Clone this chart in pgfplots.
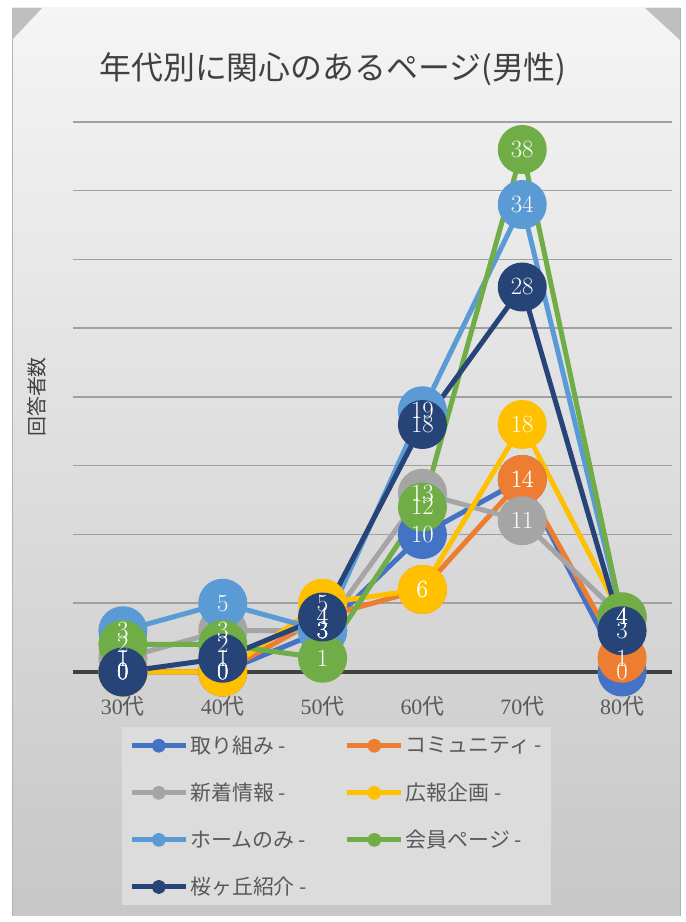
\documentclass[border=0pt]{standalone}
\usepackage{fontspec}
\setmainfont{Liberation Serif}
\newfontfamily\cjk{Noto Sans CJK JP}
\usepackage{pgfplots}
\usepackage{pgfplotstable}
\pgfplotsset{compat=1.18}

\definecolor{cA}{HTML}{4472C4}
\definecolor{cB}{HTML}{ED7D31}
\definecolor{cC}{HTML}{A5A5A5}
\definecolor{cD}{HTML}{FFC000}
\definecolor{cE}{HTML}{5B9BD5}
\definecolor{cF}{HTML}{70AD47}
\definecolor{cG}{HTML}{264478}
\definecolor{titlec}{HTML}{404040}
\definecolor{labc}{HTML}{595959}
\definecolor{gridc}{HTML}{A0A0A0}
\definecolor{axc}{HTML}{404040}
\definecolor{legc}{HTML}{DCDCDC}

% x: 0=30代 ... 5=80代
\pgfplotstableread{
x  a  b  c  d  e  f  g
0  0  0  1  0  3  2  0
1  0  0  3  0  5  2  1
2  3  4  3  5  3  1  4
3  10 6  13 6  19 12 18
4  14 14 11 18 34 38 28
5  0  1  4  4  4  4  3
}\data

\begin{document}
\begin{tikzpicture}
\fill[white] (0bp,0bp) rectangle (686bp,922bp);
\shade[top color=black!4, bottom color=black!22] (12bp,6bp) rectangle (680bp,914bp);
\draw[black!30, line width=1bp] (12bp,6bp) -- (12bp,914bp);
\draw[black!30, line width=1bp] (680bp,6bp) -- (680bp,914bp);
\fill[black!25] (12bp,914bp) -- (42bp,914bp) -- (12bp,882bp) -- cycle;
\fill[black!25] (680bp,914bp) -- (645bp,914bp) -- (680bp,882bp) -- cycle;

\node[font=\cjk\fontsize{32}{32}\selectfont, text=titlec] at (333bp,853bp) {年代別に関心のあるページ(男性)};

\begin{axis}[
  at={(73bp,250bp)}, anchor=south west,
  scale only axis, width=599bp, height=550bp,
  xmin=-0.5, xmax=5.5, ymin=0, ymax=40,
  clip=false,
  axis line style={draw=none},
  major tick length=0pt,
  xtick={0,...,5},
  xticklabels={30{\cjk 代},40{\cjk 代},50{\cjk 代},60{\cjk 代},70{\cjk 代},80{\cjk 代}},
  xticklabel style={yshift=-21bp},
  ytick={5,10,...,40}, yticklabels={},
  ymajorgrids, grid style={color=gridc, line width=1.5bp},
  extra y ticks={0}, extra y tick labels={},
  extra y tick style={grid style={color=axc, line width=4bp}},
  tick label style={font=\fontsize{22}{22}\selectfont, text=labc},
  ylabel={\cjk 回答者数},
  ylabel style={at={(axis description cs:-0.06,0.5)}, anchor=center,
    font=\fontsize{20}{20}\selectfont, text=titlec},
  legend columns=2,
  legend cell align=left,
  legend style={at={(axis description cs:0.082,-0.1)}, anchor=north west,
    fill=legc, draw=none, text=labc, font=\cjk\fontsize{21}{21}\selectfont,
    inner sep=7bp, row sep=24bp,
    /tikz/every even column/.append style={column sep=36bp}},
  legend image code/.code={
    \draw[#1, mark size=4.5bp, mark repeat=2, mark phase=2]
      plot coordinates {(0bp,0bp) (27bp,0bp) (54bp,0bp)};},
  every axis plot/.append style={line width=5bp, line join=round, mark=*, mark size=22bp},
]
\addplot[cA, mark options={fill=cA, draw=none}] table[x=x, y=a] {\data};
\addlegendentry{取り組み -}
\addplot[cB, mark options={fill=cB, draw=none}] table[x=x, y=b] {\data};
\addlegendentry{コミュニティ -}
\addplot[cC, mark options={fill=cC, draw=none}] table[x=x, y=c] {\data};
\addlegendentry{新着情報 -}
\addplot[cD, mark options={fill=cD, draw=none}] table[x=x, y=d] {\data};
\addlegendentry{広報企画 -}
\addplot[cE, mark options={fill=cE, draw=none}] table[x=x, y=e] {\data};
\addlegendentry{ホームのみ -}
\addplot[cF, mark options={fill=cF, draw=none}] table[x=x, y=f] {\data};
\addlegendentry{会員ページ -}
\addplot[cG, mark options={fill=cG, draw=none}] table[x=x, y=g] {\data};
\addlegendentry{桜ヶ丘紹介 -}

\pgfplotsset{every node near coord/.append style={anchor=center, text=white,
  font=\fontsize{26}{26}\selectfont}}
\foreach \s in {a,b,c,d,e,f,g}{
  \addplot[draw=none, mark=none, forget plot, nodes near coords]
    table[x=x, y=\s] {\data};
}
\end{axis}
\end{tikzpicture}
\end{document}
